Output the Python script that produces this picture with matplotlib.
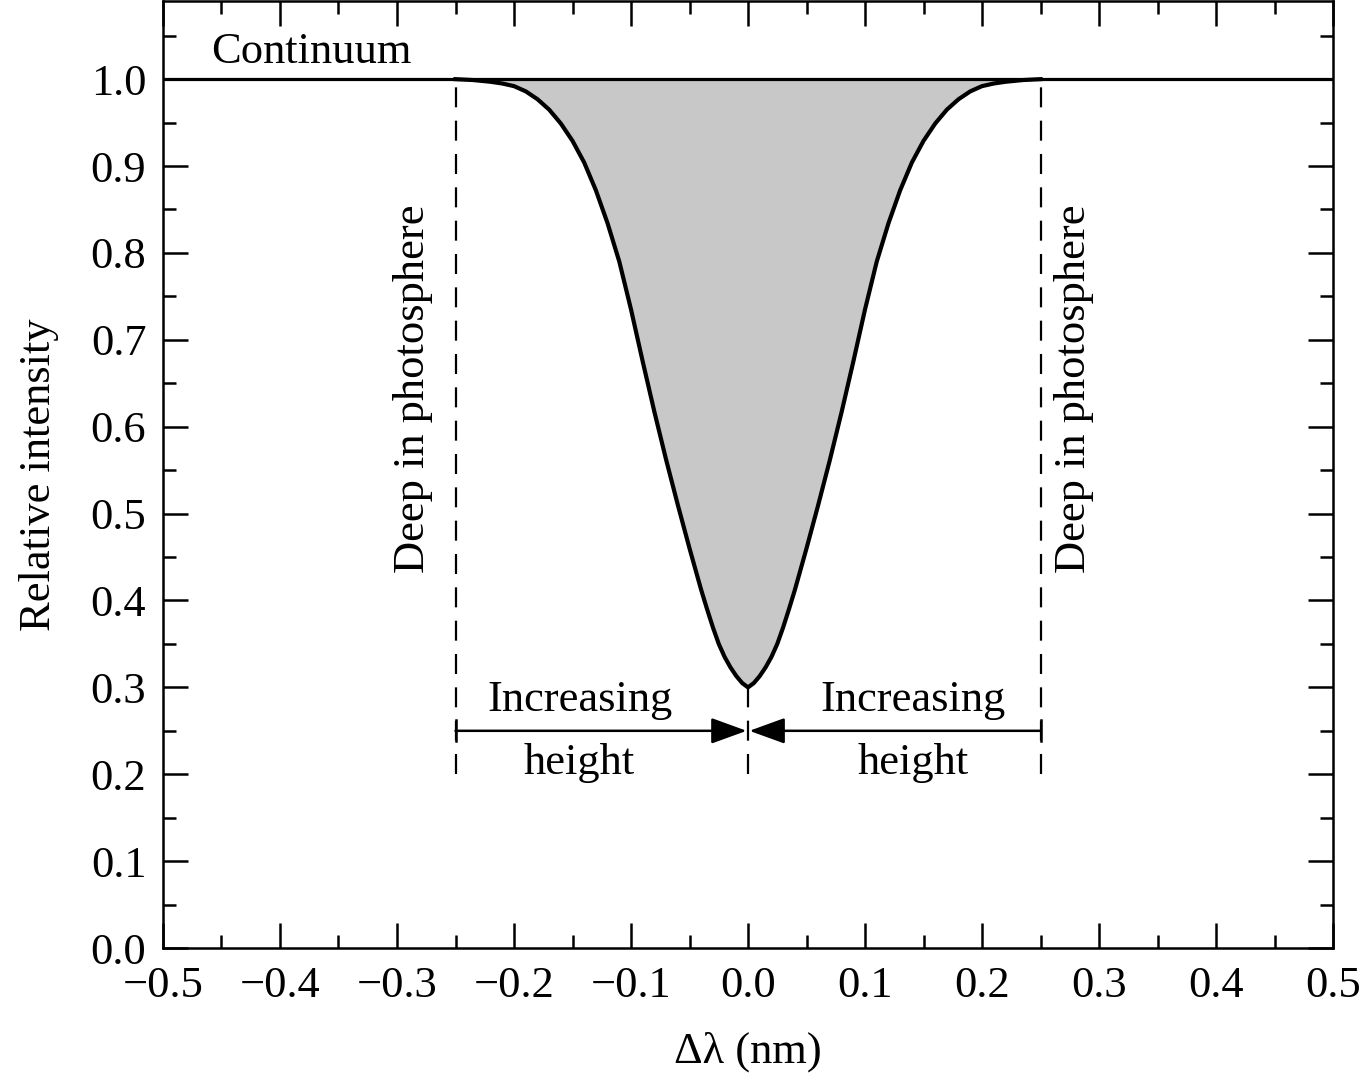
import numpy as np
import matplotlib
matplotlib.use("Agg")
import matplotlib.pyplot as plt
from matplotlib.ticker import MultipleLocator

plt.rcParams['font.family'] = ['Liberation Serif', 'DejaVu Serif']

# line profile (right half, mirrored)
dx_half = [0.0, 0.005, 0.01, 0.015, 0.02, 0.025, 0.03, 0.035, 0.04, 0.05, 0.06,
           0.07, 0.08, 0.09, 0.10, 0.11, 0.12, 0.13, 0.14, 0.15, 0.16, 0.17,
           0.18, 0.19, 0.20, 0.21, 0.22, 0.235, 0.25]
intensity_half = [0.300, 0.305, 0.313, 0.323, 0.335, 0.350, 0.369, 0.390, 0.412, 0.460, 0.510,
                  0.562, 0.617, 0.675, 0.735, 0.790, 0.834, 0.872, 0.904, 0.929, 0.949, 0.965,
                  0.977, 0.986, 0.992, 0.995, 0.997, 0.999, 1.0]

continuum = 1.0
deep_edges = [-0.25, 0.25]
arrow_level = 0.25
x_ticks = [-0.5, -0.4, -0.3, -0.2, -0.1, 0.0, 0.1, 0.2, 0.3, 0.4, 0.5]
x_labels = ['\u22120.5', '\u22120.4', '\u22120.3', '\u22120.2', '\u22120.1', '0.0',
            '0.1', '0.2', '0.3', '0.4', '0.5']
y_ticks = [0.0, 0.1, 0.2, 0.3, 0.4, 0.5, 0.6, 0.7, 0.8, 0.9, 1.0]
y_labels = ['0.0', '0.1', '0.2', '0.3', '0.4', '0.5', '0.6', '0.7', '0.8', '0.9', '1.0']

dx = np.concatenate([-np.array(dx_half[:0:-1]), np.array(dx_half)])
inten = np.concatenate([np.array(intensity_half[:0:-1]), np.array(intensity_half)])

fig = plt.figure(figsize=(13.65, 10.8), dpi=100)
ax = fig.add_axes([0.1194, 0.1222, 0.8572, 0.8769])

ax.fill_between(dx, inten, continuum, color='#c8c8c8', lw=0)
ax.plot(dx, inten, color='black', lw=3.0, solid_joinstyle='round')
ax.axhline(continuum, color='black', lw=2.3)

# dashed markers
for xe in deep_edges:
    ax.plot([xe, xe], [0.2, continuum], color='black', lw=1.6, dashes=(9, 6))
ax.plot([0, 0], [0.2, 0.3], color='black', lw=1.6, dashes=(9, 6))

# arrows
for xe in deep_edges:
    ax.annotate('', xy=(0, arrow_level), xytext=(xe, arrow_level),
                arrowprops=dict(arrowstyle='-|>,head_length=1.1,head_width=0.4',
                                color='black', lw=1.8, shrinkA=0, shrinkB=1,
                                mutation_scale=20))
    ax.plot([xe, xe], [arrow_level - 0.012, arrow_level + 0.012], color='black', lw=1.8)

fs = 32
ax.text(-0.4585, 1.031, 'Continuum', fontsize=fs, ha='left', va='center')
for xc in [-0.144, 0.141]:
    ax.text(xc, 0.285, 'Increasing', fontsize=fs, ha='center', va='center')
    ax.text(xc, 0.213, 'height', fontsize=fs, ha='center', va='center')
ax.text(-0.286, 0.644, 'Deep in photosphere', fontsize=fs, rotation=90,
        ha='center', va='center')
ax.text(0.279, 0.644, 'Deep in photosphere', fontsize=fs, rotation=90,
        ha='center', va='center')

ax.set_xlim(-0.5, 0.5)
ax.set_ylim(0, 1.09)
ax.set_xticks(x_ticks)
ax.set_xticklabels(x_labels)
ax.set_yticks(y_ticks)
ax.set_yticklabels(y_labels)
ax.xaxis.set_minor_locator(MultipleLocator(0.05))
ax.yaxis.set_minor_locator(MultipleLocator(0.05))

ax.tick_params(which='both', direction='in', top=True, right=True, width=1.8,
               labelsize=fs)
ax.tick_params(which='major', length=18)
ax.tick_params(which='minor', length=9.5)
ax.tick_params(axis='x', which='major', pad=13)
ax.tick_params(axis='y', which='major', pad=12)
for s in ax.spines.values():
    s.set_linewidth(1.8)

ax.set_xlabel('\u0394\u03bb (nm)', fontsize=fs, labelpad=18)
ax.set_ylabel('Relative intensity', fontsize=fs, labelpad=23)

fig.savefig('out.png', dpi=100)
